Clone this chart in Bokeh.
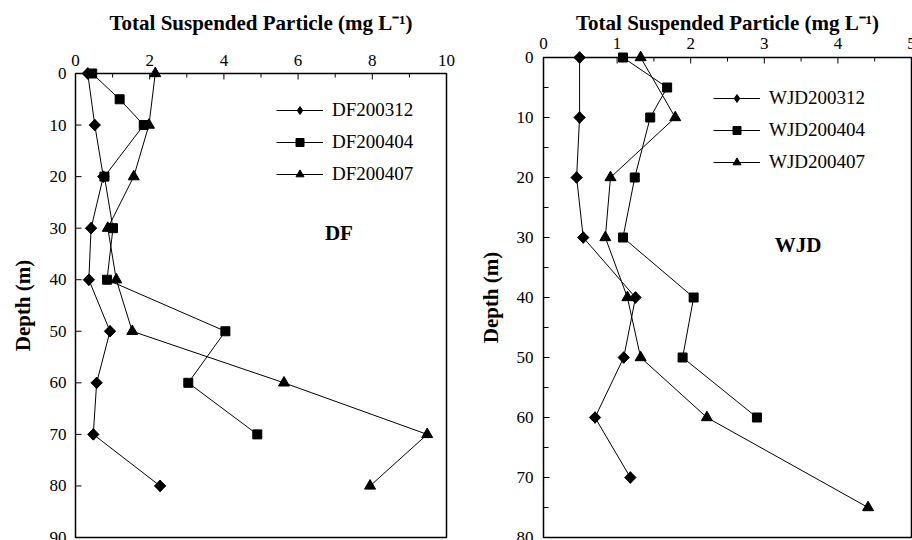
import math
from bokeh.plotting import figure
from bokeh.models import Range1d, Legend, LegendItem
from bokeh.core.properties import value
from bokeh.layouts import row, column
from bokeh.embed import file_html
from bokeh.resources import INLINE

# ---- data: DF station ----
df_312_depth = [0, 10, 20, 30, 40, 50, 60, 70, 80]
df_312_tsp = [0.33, 0.52, 0.75, 0.42, 0.36, 0.93, 0.57, 0.48, 2.28]
df_404_depth = [0, 5, 10, 20, 30, 40, 50, 60, 70]
df_404_tsp = [0.45, 1.19, 1.84, 0.78, 1.01, 0.85, 4.04, 3.04, 4.90]
df_407_depth = [0, 10, 20, 30, 40, 50, 60, 70, 80]
df_407_tsp = [2.15, 1.98, 1.57, 0.87, 1.10, 1.53, 5.62, 9.48, 7.94]

# ---- data: WJD station ----
wjd_312_depth = [0, 10, 20, 30, 40, 50, 60, 70]
wjd_312_tsp = [0.49, 0.49, 0.45, 0.54, 1.25, 1.09, 0.70, 1.18]
wjd_404_depth = [0, 5, 10, 20, 30, 40, 50, 60]
wjd_404_tsp = [1.08, 1.68, 1.45, 1.24, 1.08, 2.04, 1.89, 2.90]
wjd_407_depth = [0, 10, 20, 30, 40, 50, 60, 75]
wjd_407_tsp = [1.32, 1.79, 0.91, 0.84, 1.14, 1.32, 2.22, 4.41]

df_names = ["DF200312", "DF200404", "DF200407"]
wjd_names = ["WJD200312", "WJD200404", "WJD200407"]

# ---- ticks ----
df_xticks = [0, 2, 4, 6, 8, 10]
df_xminor = [1, 3, 5, 7, 9]
df_yticks = [0, 10, 20, 30, 40, 50, 60, 70, 80, 90]
df_yminor = []
wjd_xticks = [0, 1, 2, 3, 4, 5]
wjd_xminor = [0.5, 1.5, 2.5, 3.5, 4.5]
wjd_yticks = [0, 10, 20, 30, 40, 50, 60, 70, 80]
wjd_yminor = [5, 15, 25, 35, 45, 55, 65, 75]

FONT = "Liberation Serif"
X_TITLE = "Total Suspended Particle (mg L\u207b\u00b9)"
Y_TITLE = "Depth (m)"


def make_panel(cw, ch, box, xmax, ymax, xticks, xminor, yticks, yminor,
               xtick_off, ytick_off, title_off, ytitle_off,
               series, names, legend_loc, station, station_xy):
    bl, bt, br, bb = box  # plot-box edges in canvas pixels
    kx = (br - bl) / xmax
    ky = (bb - bt) / ymax
    p = figure(width=cw, height=ch,
               x_range=Range1d(-bl / kx, xmax + (cw - br) / kx),
               y_range=Range1d(ymax + (ch - bb) / ky, -bt / ky),
               x_axis_location=None, y_axis_location=None, min_border=0,
               output_backend="svg", toolbar_location=None)
    p.outline_line_color = None
    p.xgrid.visible = False
    p.ygrid.visible = False

    # plot box
    p.quad(left=[0], right=[xmax], top=[0], bottom=[ymax], fill_color=None,
           line_color="black", line_width=1.5)
    # inward ticks
    p.ray(x=xticks, y=0, length=6, length_units="screen", angle=-math.pi / 2,
          line_color="black", line_width=1)
    p.ray(x=xminor, y=0, length=4, length_units="screen", angle=-math.pi / 2,
          line_color="black", line_width=1)
    p.ray(x=0, y=yticks, length=6, length_units="screen", angle=0,
          line_color="black", line_width=1)
    if yminor:
        p.ray(x=0, y=yminor, length=5, length_units="screen", angle=0,
              line_color="black", line_width=1)

    # tick labels (centred a fixed pixel distance outside the box)
    p.text(x=xticks, y=-xtick_off / ky, text=[str(v) for v in xticks],
           text_font=value(FONT), text_font_size="17px", text_color="black",
           text_align="center", text_baseline="middle")
    p.text(x=-ytick_off / kx, y=yticks, text=[str(v) for v in yticks],
           text_font=value(FONT), text_font_size="17px", text_color="black",
           text_align="right", text_baseline="middle")
    # axis titles
    p.text(x=[xmax / 2], y=[-title_off / ky], text=[X_TITLE],
           text_font=value(FONT), text_font_size="21px", text_font_style="bold",
           text_color="black", text_align="center", text_baseline="middle")
    p.text(x=[-ytitle_off / kx], y=[ymax / 2], text=[Y_TITLE],
           angle=math.pi / 2, text_font=value(FONT), text_font_size="21px",
           text_font_style="bold", text_color="black", text_align="center",
           text_baseline="middle")
    # station label
    p.text(x=[station_xy[0]], y=[station_xy[1]], text=[station],
           text_font=value(FONT), text_font_size="21px", text_font_style="bold",
           text_color="black", text_align="center", text_baseline="middle")

    items = []
    styles = [("square", 8, math.pi / 4), ("square", 9, 0.0), ("triangle", 11, 0.0)]
    for i, ((xs, ys), name, (mk, sz, ang)) in enumerate(zip(series, names, styles)):
        lr = p.line(xs, ys, line_color="black", line_width=1)
        if i == 0:
            dr = p.scatter(xs, ys, marker="diamond", size=11.5,
                           fill_color="black", line_color="black")
        sr = p.scatter(xs, ys, marker=mk, size=sz, angle=ang,
                       fill_color="black", line_color="black")
        items.append(LegendItem(label=name, renderers=[lr, dr if i == 0 else sr]))
    leg = Legend(items=items, location=legend_loc, glyph_width=47, glyph_height=20,
                 label_height=20, spacing=10, label_standoff=9, padding=0, margin=0,
                 border_line_color=None, background_fill_alpha=0,
                 label_text_font=FONT, label_text_font_size="19px",
                 label_text_color="black")
    p.add_layout(leg, "center")
    return p


left = make_panel(458, 540, (75, 73, 446, 537), 10, 90,
                  df_xticks, df_xminor, df_yticks, df_yminor, 13, 9, 50.5, 53,
                  [(df_312_tsp, df_312_depth), (df_404_tsp, df_404_depth),
                   (df_407_tsp, df_407_depth)],
                  df_names, (276, 355), "DF", (7.1, 31))
right = make_panel(454, 540, (85, 57, 453, 537), 5, 80,
                   wjd_xticks, wjd_xminor, wjd_yticks, wjd_yminor, 14, 10, 34.5, 52.5,
                   [(wjd_312_tsp, wjd_312_depth), (wjd_404_tsp, wjd_404_depth),
                    (wjd_407_tsp, wjd_407_depth)],
                   wjd_names, (255, 367), "WJD", (3.46, 31.2))

layout = row(column(left), column(right))
open("out.html", "w").write(file_html(layout, INLINE))
